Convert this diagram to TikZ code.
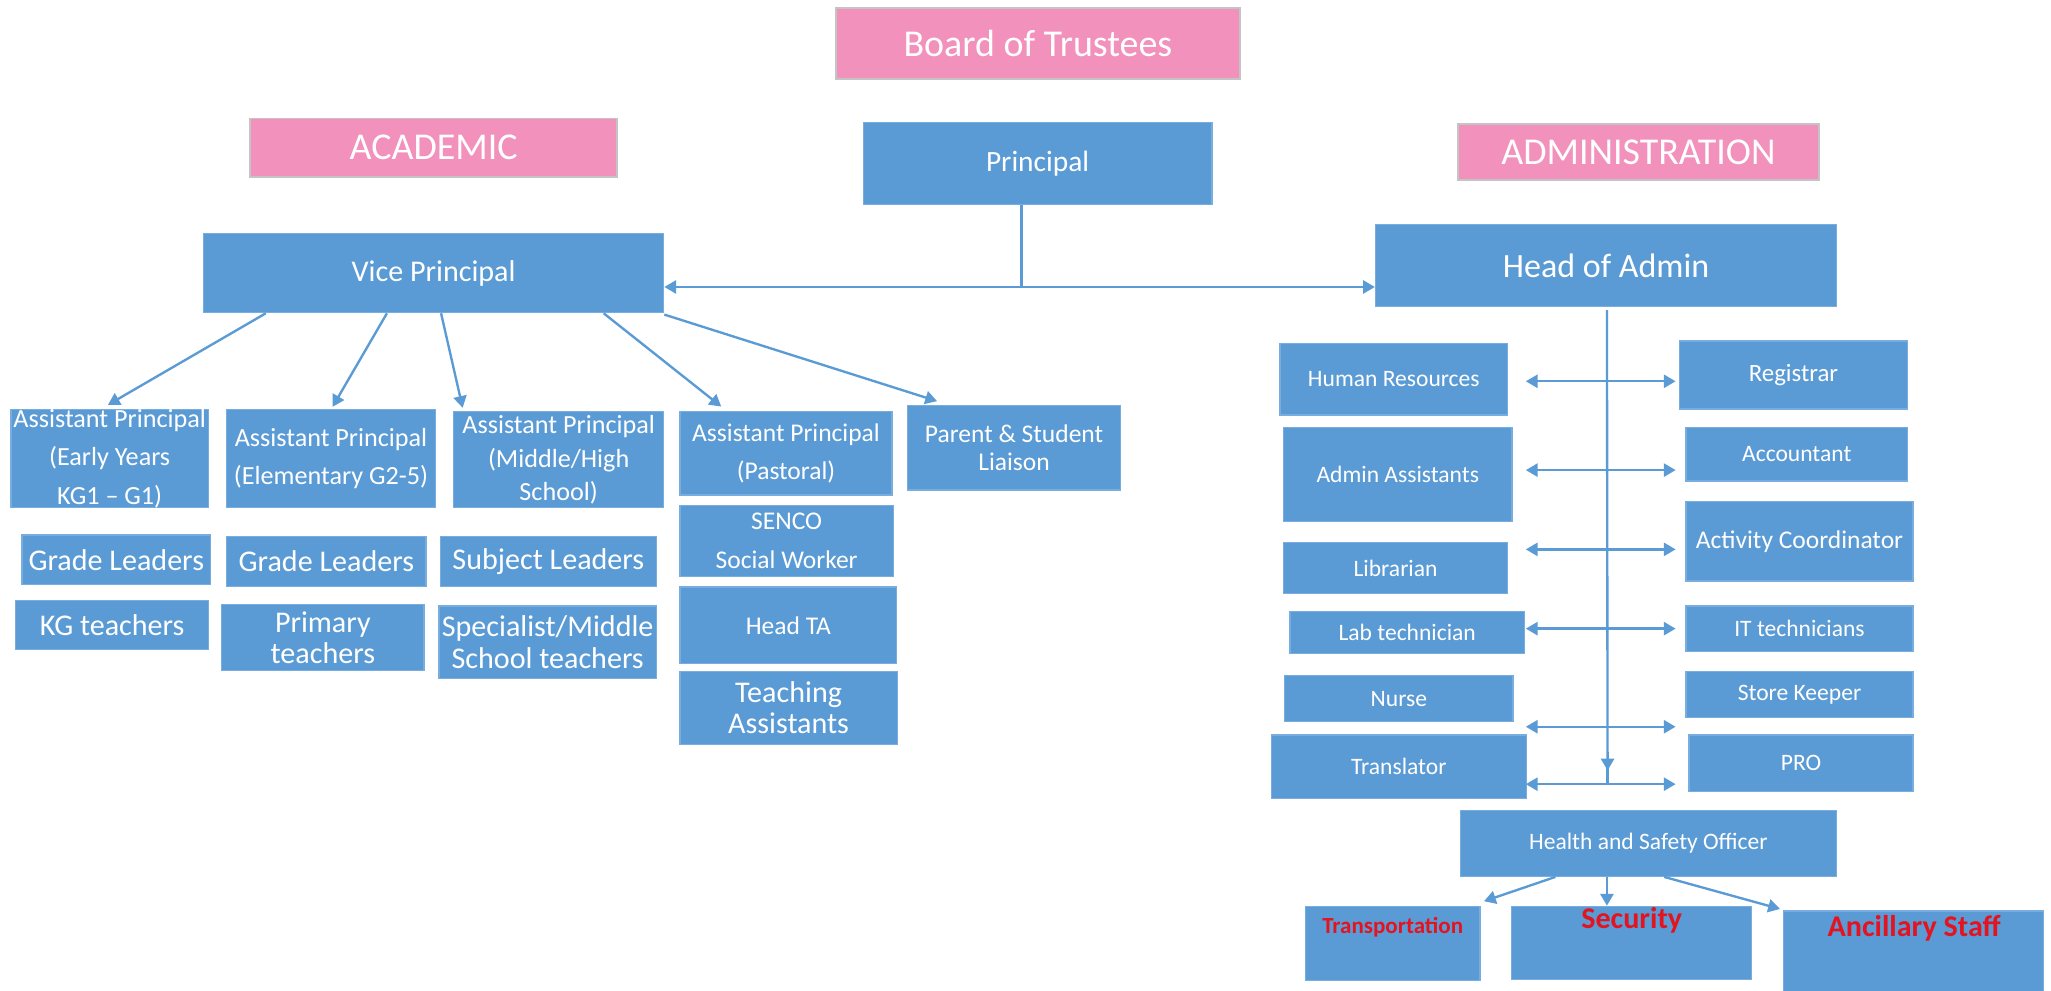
\documentclass[tikz,border=0pt]{standalone}
\usepackage{fontspec}
\setmainfont{Carlito}
\usetikzlibrary{arrows.meta,fit}
\definecolor{boxblue}{HTML}{5B9BD5}
\definecolor{boxedge}{HTML}{78AEDF}
\definecolor{pinkfill}{HTML}{F191BC}
\definecolor{pinkedge}{HTML}{C4C4C4}
\definecolor{lineblue}{HTML}{5B9BD5}
\definecolor{redtext}{HTML}{E3141F}
\newcommand\fz[2]{\fontsize{#1}{#2}\selectfont}
% style, name, x1, y1, x2, y2, font, text
\newcommand\obox[8]{\node[#1,fit={(#3,#4)(#5,#6)}] (#2) {};
  \node[tx,font=#7] (#2-t) at (#2.center) {#8};}
\begin{document}
\begin{tikzpicture}[x=1pt,y=-1pt,
  bx/.style={draw=boxedge,fill=boxblue,line width=1pt,inner sep=0pt},
  pk/.style={draw=pinkedge,fill=pinkfill,line width=1.5pt,inner sep=0pt},
  tx/.style={text=white,align=center,inner sep=0pt},
  rtx/.style={text=redtext,inner sep=0pt,font=\bfseries},
  ln/.style={draw=lineblue,line width=1.8pt},
  arr/.style={ln,-{Triangle[length=9pt,width=10pt]}},
  darr/.style={ln,{Triangle[length=9pt,width=10pt]}-{Triangle[length=9pt,width=10pt]}}]
\useasboundingbox (0,0) rectangle (1568,756.9);
\fill[white] (0,0) rectangle (1568,756.9);

% headers
\obox{pk}{bot}{638.8}{6.4}{948.2}{60.7}{\fz{29}{34}}{Board of Trustees}
\obox{pk}{acad}{191}{90.6}{472}{135.2}{\fz{29}{34}}{ACADEMIC}
\obox{pk}{adm}{1114.5}{94.9}{1390.6}{137.8}{\fz{29}{34}}{ADMINISTRATION}

% top level
\obox{bx}{pr}{659.9}{93.6}{926.6}{156.6}{\fz{22.5}{27}}{Principal}
\obox{bx}{vp}{155.6}{178.6}{507.4}{239}{\fz{23}{28}}{Vice Principal}
\obox{bx}{hoa}{1051.6}{171.7}{1404.1}{234.2}{\fz{26}{31}}{Head of Admin}

% academic
\obox{bx}{ap1}{8.4}{313}{159.3}{388.2}{\fz{20}{29.3}}{Assistant Principal\\(Early Years\\KG1 – G1)}
\obox{bx}{ap2}{173.4}{313}{332.7}{388.2}{\fz{20}{28.8}}{Assistant Principal\\(Elementary G2-5)}
\obox{bx}{ap3}{346.8}{314.8}{507.4}{388.2}{\fz{20}{25.5}}{Assistant Principal\\(Middle/High\\School)}
\obox{bx}{ap4}{519.9}{314.8}{681.9}{378.5}{\fz{19.5}{29.3}}{Assistant Principal\\(Pastoral)}
\obox{bx}{psl}{693.9}{310.2}{856.6}{374.7}{\fz{19.5}{21}}{Parent \& Student\\Liaison}
\obox{bx}{gl1}{16.8}{409.1}{161}{446.9}{\fz{23}{28}}{Grade Leaders}
\obox{bx}{kg}{12.1}{458.9}{159.3}{496.6}{\fz{23}{28}}{KG teachers}
\obox{bx}{gl2}{173.4}{410.2}{325.6}{448.2}{\fz{23}{28}}{Grade Leaders}
\obox{bx}{pt}{169.4}{462.2}{324.2}{512.8}{\fz{23}{24.2}}{Primary\\teachers}
\obox{bx}{sl}{336.7}{410.2}{501.7}{448.2}{\fz{23}{28}}{Subject Leaders}
\obox{bx}{sp}{335.7}{463.2}{501.7}{518.6}{\fz{23}{24.8}}{Specialist/Middle\\School teachers}
\obox{bx}{senco}{519.9}{386.7}{682.9}{440.5}{\fz{19.5}{29.4}}{SENCO\\Social Worker}
\obox{bx}{hta}{519.9}{448.7}{685.6}{507.4}{\fz{19.5}{24}}{Head TA}
\obox{bx}{ta}{519.9}{513.5}{685.9}{569.1}{\fz{23}{23.8}}{Teaching\\Assistants}

% administration
\obox{bx}{hr}{978.5}{262.5}{1152.6}{317.3}{\fz{18}{22}}{Human Resources}
\obox{bx}{aa}{981.2}{326.7}{1156}{398.9}{\fz{18}{22}}{Admin Assistants}
\obox{bx}{lib}{981.2}{415}{1152.6}{453.8}{\fz{18}{22}}{Librarian}
\obox{bx}{lab}{986.2}{467.3}{1165.4}{499.7}{\fz{18}{22}}{Lab technician}
\obox{bx}{nur}{982.2}{516.6}{1156.6}{551.8}{\fz{18}{22}}{Nurse}
\obox{bx}{trl}{971.8}{562}{1167}{610.5}{\fz{18}{22}}{Translator}
\obox{bx}{reg}{1283.9}{260.7}{1458.3}{312.7}{\fz{19}{23}}{Registrar}
\obox{bx}{acc}{1289}{326.7}{1458.3}{367.8}{\fz{18}{22}}{Accountant}
\obox{bx}{act}{1289}{383.6}{1462.4}{444.1}{\fz{19.5}{23}}{Activity Coordinator}
\obox{bx}{it}{1289}{463.2}{1462.4}{497.9}{\fz{18}{22}}{IT technicians}
\obox{bx}{sk}{1289}{513.5}{1462.4}{548.7}{\fz{18}{22}}{Store Keeper}
\obox{bx}{pro}{1291.3}{562}{1462.4}{604.9}{\fz{18}{22}}{PRO}
\obox{bx}{hso}{1116.6}{619.4}{1403.8}{669.9}{\fz{18}{22}}{Health and Safety Officer}

% bottom boxes with red labels
\node[bx,fit={(998,692.9)(1131.4,749.5)}] (tr) {};
\node[bx,fit={(1155.3,692.9)(1338.8,749)}] (sec) {};
\node[bx,fit={(1363.7,696.4)(1562.4,758)}] (anc) {};
\node[rtx,font=\bfseries\fz{17.6}{20}] (tr-t) at (1064.7,708.7) {Transportation};
\node[rtx,font=\bfseries\fz{23}{26}] (sec-t) at (1247.5,703.6) {Security};
\node[rtx,font=\bfseries\fz{23}{26}] (anc-t) at (1463.4,710) {Ancillary Staff};

% principal connectors
\coordinate (j) at (780.8,219.4);
\draw[ln] (j |- pr.south) -- (j);
\draw[arr] (j) -- (vp.east |- j);
\draw[arr] (j) -- (hoa.west |- j);

% vice principal connectors
\draw[arr] ([xshift=48.1pt]vp.south west) -- ([xshift=-1.3pt,yshift=3pt]ap1.north);
\draw[arr] ([xshift=140.7pt]vp.south west) -- ([xshift=1.2pt,yshift=1.5pt]ap2.north);
\draw[arr] ([xshift=182.1pt]vp.south west) -- ([xshift=7.4pt,yshift=2.5pt]ap3.north west);
\draw[arr] ([xshift=306.4pt]vp.south west) -- ([xshift=32pt,yshift=3.5pt]ap4.north west);
\draw[arr] ([yshift=-1pt]vp.south east) -- ([xshift=23pt,yshift=3pt]psl.north west);

% admin spine
\coordinate (spt) at (1228.5,237);
\coordinate (spa) at (1229,589);
\coordinate (spb) at (1229,599.5);
\draw[arr] (spt) -- (spa);
\draw[ln] ([yshift=2pt]spa) -- (spb);
\foreach \yy/\n in {291.5/1,359.4/2,420/3,480.6/4,555.6/5,599.5/6}{
  \coordinate (s\n) at (1229,\yy);
  \coordinate (l\n) at (1166.5,\yy);
  \coordinate (r\n) at (1281,\yy);
  \draw[arr] (s\n) -- (l\n);
  \draw[arr] (s\n) -- (r\n);
}

% health and safety connectors
\draw[arr] ([xshift=73pt]hso.south west) -- ([xshift=2.6pt,yshift=3.4pt]tr.north east);
\coordinate (h2) at ([xshift=112.4pt]hso.south west);
\draw[arr] (h2) -- (h2 |- sec.north);
\draw[arr] ([xshift=156.2pt]hso.south west) -- ([xshift=-2.4pt,yshift=1pt]anc.north west);
\end{tikzpicture}
\end{document}
